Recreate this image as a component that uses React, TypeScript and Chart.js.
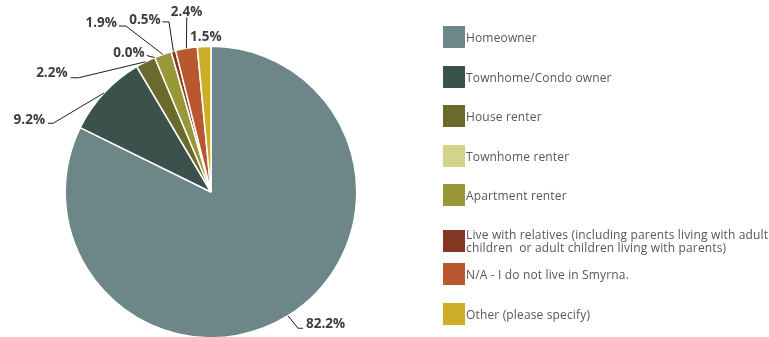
import React, { useEffect, useRef } from "react";
import { Chart, registerables } from "chart.js";

Chart.register(...registerables);

const categories = [
  "Homeowner",
  "Townhome/Condo owner",
  "House renter",
  "Townhome renter",
  "Apartment renter",
  "Live with relatives (including parents living with adult children  or adult children living with parents)",
  "N/A - I do not live in Smyrna.",
  "Other (please specify)",
];

const percentages = [82.2, 9.2, 2.2, 0.0, 1.9, 0.5, 2.4, 1.5];

const sliceColors = [
  "#6d8788",
  "#3b514c",
  "#6b6a2d",
  "#d5d289",
  "#989838",
  "#833621",
  "#b9572f",
  "#cdae2b",
];

// label placement offsets relative to each slice's outer-edge midpoint
const labelLayout: any[] = [
  { elbow: [10, 12.5], end: [15, 12.5], text: [18, 12.5], align: "left" },
  { elbow: [-51, 30.3], end: [-56, 30.3], text: [-59, 31], align: "right" },
  { elbow: [-67, 16], end: [-75, 16], text: [-78, 15], align: "right" },
  { elbow: [0, 0], end: [-8, -2], text: [-10, -1], align: "right" },
  { elbow: [-37, -28.4], end: [-44, -28.4], text: [-46, -27.4], align: "right" },
  { elbow: [-4.4, -29.3], end: [-11, -29.3], text: [-12.7, -27], align: "right" },
  { elbow: [0.4, -31], end: [0.4, -31], text: [0.2, -32.5], align: "center" },
  { elbow: null, end: null, text: [1.7, -5.5], align: "center" },
];

const legendCenters = [37, 77, 116, 156, 195, 241, 274, 314];

const labelPlugin = {
  id: "outsideLabels",
  afterDatasetsDraw(chart: any) {
    const ctx = chart.ctx;
    const meta = chart.getDatasetMeta(0);
    const data = chart.data.datasets[0].data as number[];
    ctx.save();
    meta.data.forEach((arc: any, i: number) => {
      const lay = labelLayout[i];
      if (!lay) return;
      const p = arc.getProps(["x", "y", "startAngle", "endAngle", "outerRadius"], true);
      const mid = (p.startAngle + p.endAngle) / 2;
      const ex = p.x + p.outerRadius * Math.cos(mid);
      const ey = p.y + p.outerRadius * Math.sin(mid);
      if (lay.end) {
        ctx.beginPath();
        ctx.strokeStyle = "#1f1f1f";
        ctx.lineWidth = 1;
        ctx.moveTo(ex, ey);
        ctx.lineTo(ex + lay.elbow[0], ey + lay.elbow[1]);
        ctx.lineTo(ex + lay.end[0], ey + lay.end[1]);
        ctx.stroke();
      }
      ctx.fillStyle = "#3d3d3d";
      ctx.font = "bold 13.5px 'Open Sans'";
      ctx.textAlign = lay.align;
      ctx.textBaseline = "alphabetic";
      ctx.fillText(data[i].toFixed(1) + "%", ex + lay.text[0], ey + lay.text[1]);
    });
    ctx.restore();
  },
};

const legendPlugin = {
  id: "sideLegend",
  afterDraw(chart: any) {
    const ctx = chart.ctx;
    const labels = chart.data.labels as string[];
    const colors = chart.data.datasets[0].backgroundColor as string[];
    const boxX = 443;
    const box = 22;
    const textX = 466;
    const wrapW = 320;
    const lineH = 13;
    ctx.save();
    ctx.font = "12px 'Open Sans'";
    try {
      (ctx as any).letterSpacing = "0.15px";
    } catch (e) {}
    labels.forEach((lab, i) => {
      const cy = legendCenters[i];
      ctx.fillStyle = colors[i];
      ctx.fillRect(boxX, cy - box / 2, box, box);
      const words = lab.split(" ");
      const lines: string[] = [];
      let cur = "";
      words.forEach((w, wi) => {
        const test = wi === 0 ? w : cur + " " + w;
        if (ctx.measureText(test).width > wrapW && cur !== "") {
          lines.push(cur);
          cur = w;
        } else {
          cur = test;
        }
      });
      lines.push(cur);
      ctx.fillStyle = "#575757";
      ctx.textAlign = "left";
      ctx.textBaseline = "alphabetic";
      const startY = cy - ((lines.length - 1) * lineH) / 2 + 4.5;
      lines.forEach((ln, li) => {
        ctx.fillText(ln.replace(/^ /, ""), textX, startY + li * lineH);
      });
    });
    ctx.restore();
  },
};

export default function App() {
  const ref = useRef<HTMLCanvasElement | null>(null);
  useEffect(() => {
    if (!ref.current) return;
    const chart = new Chart(ref.current, {
      type: "pie",
      data: {
        labels: categories,
        datasets: [
          {
            data: percentages,
            backgroundColor: sliceColors,
            borderColor: "#ffffff",
            borderWidth: 1.5,
          },
        ],
      },
      options: {
        responsive: false,
        animation: false,
        devicePixelRatio: 1,
        radius: 145.75,
        layout: { padding: { left: 66, right: 413, top: 47, bottom: 0 } },
        plugins: {
          legend: { display: false },
          tooltip: { enabled: false },
        },
      } as any,
      plugins: [labelPlugin, legendPlugin],
    });
    return () => chart.destroy();
  }, []);
  return (
    <div style={{ position: "absolute", left: 0, top: 0, width: 769, height: 337, background: "#fff" }}>
      <canvas ref={ref} width={769} height={337} style={{ display: "block", width: 769, height: 337 }} />
    </div>
  );
}
